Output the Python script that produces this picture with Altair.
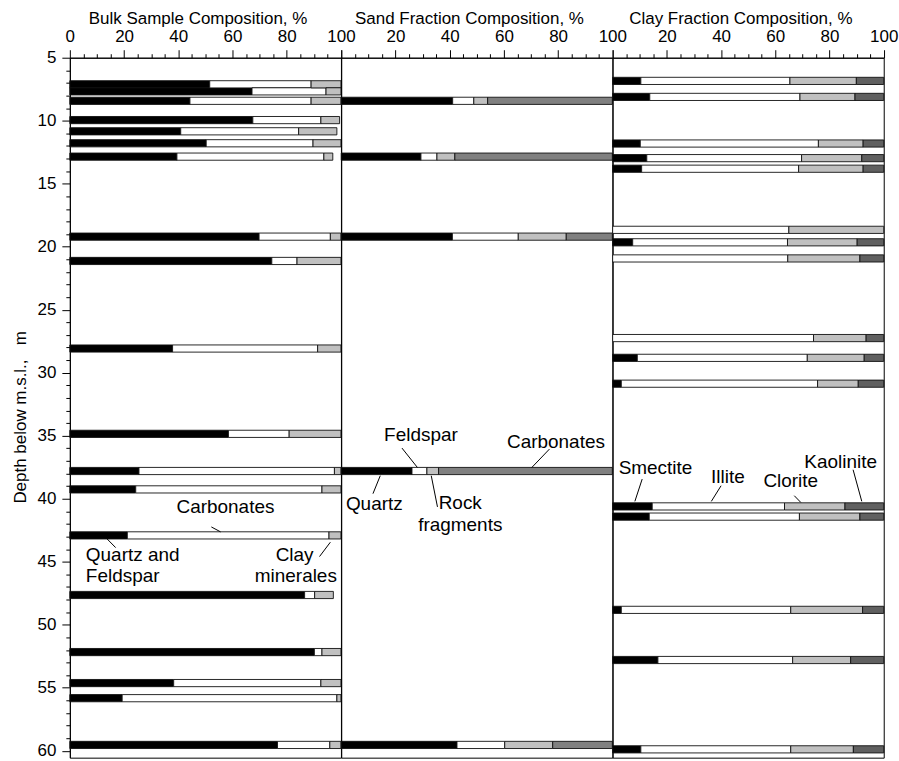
import altair as alt
import pandas as pd

FONT = "Liberation Sans"

# ---- Bulk sample composition, % ----
bulk_depth = [7.11, 7.67, 8.42, 9.95, 10.84, 11.79, 12.85, 19.2, 21.13, 28.08,
              34.85, 37.8, 39.26, 42.91, 47.64, 52.17, 54.63, 55.83, 59.54]
bulk_quartz_feldspar = [51.6, 67.2, 44.3, 67.5, 40.9, 50.3, 39.5, 69.8, 74.5, 37.9,
                        58.5, 25.5, 24.3, 21.2, 86.6, 90.2, 38.3, 19.3, 76.6]
bulk_carbonates = [37.4, 27.3, 44.7, 25.1, 43.5, 39.4, 54.2, 26.3, 9.3, 53.5,
                   22.4, 72.1, 68.7, 74.4, 3.7, 2.8, 54.3, 79.2, 19.3]
bulk_clay = [11.0, 5.5, 11.0, 6.9, 14.1, 10.3, 3.3, 3.9, 16.2, 8.6,
             19.1, 2.4, 7.0, 4.4, 6.9, 7.0, 7.4, 1.5, 4.1]

# ---- Sand fraction composition, % ----
sand_depth = [8.42, 12.85, 19.2, 37.8, 59.54]
sand_quartz = [41.1, 29.4, 41.0, 26.1, 42.7]
sand_feldspar = [7.8, 5.9, 24.3, 5.5, 17.6]
sand_rock = [5.1, 6.6, 17.7, 4.3, 17.7]
sand_carbonates = [46.0, 58.1, 17.0, 64.1, 22.0]

# ---- Clay fraction composition, % ----
clay_depth = [6.84, 8.11, 11.81, 12.97, 13.81, 18.66, 19.65, 20.93, 27.25, 28.82,
              30.87, 40.61, 41.42, 48.82, 52.8, 59.89]
clay_smectite = [10.4, 13.7, 10.2, 12.6, 10.7, 0, 7.4, 0, 0, 9.1,
                 3.2, 14.6, 13.5, 3.2, 16.7, 10.4]
clay_illite = [55.0, 55.4, 65.7, 57.1, 57.9, 65.0, 57.1, 64.6, 74.1, 62.7,
               72.4, 48.8, 55.4, 62.5, 49.7, 55.3]
clay_clorite = [24.5, 20.3, 16.5, 22.2, 23.8, 35.0, 25.7, 26.6, 19.4, 21.0,
                15.0, 22.3, 22.3, 26.5, 21.4, 23.1]
clay_kaolinite = [10.1, 10.6, 7.6, 8.1, 7.6, 0, 9.8, 8.8, 6.5, 7.2,
                  9.4, 14.3, 8.8, 7.8, 12.2, 11.2]

# ---- annotation labels: (text, x %, depth m) and leader lines ----
bulk_labels_center = [("Carbonates", 57.4, 40.63)]
bulk_labels_left = [("Quartz and", 5.9, 44.43), ("Feldspar", 5.9, 46.15)]
bulk_labels_right = [("Clay", 89.9, 44.43), ("minerales", 98.5, 46.15)]
bulk_leaders = [(52.2, 42.24, 55.6, 42.63), (13.6, 43.16, 16.9, 43.88),
                (92.1, 44.59, 96.1, 43.45)]

sand_labels_center = [("Feldspar", 29.4, 34.93), ("Carbonates", 79.2, 35.46),
                      ("Quartz", 12.2, 40.39), ("Rock", 43.9, 40.31),
                      ("fragments", 43.9, 42.05)]
sand_leaders = [(22.4, 35.98, 28.1, 37.52), (76.8, 36.06, 70.3, 37.52),
                (14.4, 38.17, 11.7, 39.6), (33.2, 38.17, 35.5, 40.65)]

clay_labels_center = [("Smectite", 15.8, 37.57), ("Illite", 42.5, 38.28),
                      ("Clorite", 65.7, 38.57), ("Kaolinite", 84.1, 37.12)]
clay_leaders = [(10.9, 38.44, 8.2, 40.21), (40.0, 38.97, 36.4, 40.21),
                (67.0, 39.76, 69.4, 40.29), (88.7, 37.7, 91.9, 40.21)]

PANEL_W = 271.7
PANEL_H = 701.5
BAR_HALF = 0.285

y_scale = alt.Scale(domain=[5, 60.55], reverse=True, nice=False, zero=False)
x_scale = alt.Scale(domain=[0, 100], nice=False)


def long_table(depths, parts):
    rows = []
    for order, (name, values) in enumerate(parts):
        for d, v in zip(depths, values):
            rows.append({"depth": d, "component": name, "order": order, "value": v})
    return pd.DataFrame(rows)


def x_axis(title, first):
    # panels to the right share their "0" with the "100" of the panel before
    label_test = "datum.value % 20 === 0" + ("" if first else " && datum.value > 0")
    return alt.Axis(
        orient="top",
        values=list(range(0, 101, 5)),
        labelExpr=f"{label_test} ? datum.label : ''",
        tickSize={"condition": {"test": "datum.value % 20 === 0", "value": 8}, "value": 4},
        labelPadding=4,
        labelFlush=False,
        labelOverlap=False,
        labelFontSize=17,
        title=title,
        titleFontSize=17,
        titleX=128,
        titleY=-34,
        titleBaseline="alphabetic",
        grid=False,
    )


Y_AXIS = alt.Axis(
    values=list(range(5, 61)),
    labelExpr="datum.value % 5 === 0 ? datum.label : ''",
    tickSize={"condition": {"test": "datum.value % 5 === 0", "value": 8}, "value": 4},
    labelPadding=6,
    labelOverlap=False,
    labelFontSize=17,
    title="Depth below m.s.l.,\u00a0\u00a0 m",
    titleFontSize=17,
    titleX=-44,
    titleY=360,
    titleBaseline="alphabetic",
    grid=False,
)


def text_layer(items, align, xa, ya):
    df = pd.DataFrame(items, columns=["label", "x", "depth"])
    return alt.Chart(df).mark_text(
        align=align, baseline="middle", fontSize=19, font=FONT, color="black"
    ).encode(
        x=alt.X("x:Q", scale=x_scale, axis=xa),
        y=alt.Y("depth:Q", scale=y_scale, axis=ya),
        text="label:N",
    )


def leader_layer(items, xa, ya):
    df = pd.DataFrame(items, columns=["x1", "d1", "x2", "d2"])
    return alt.Chart(df).mark_rule(color="black", strokeWidth=1).encode(
        x=alt.X("x1:Q", scale=x_scale, axis=xa),
        x2="x2:Q",
        y=alt.Y("d1:Q", scale=y_scale, axis=ya),
        y2="d2:Q",
    )


def panel(df, names, colors, title, first, texts, leaders):
    xa = x_axis(title, first)
    ya = Y_AXIS if first else None
    bars = (
        alt.Chart(df)
        .transform_filter("datum.value > 0")
        .transform_stack(
            stack="value",
            groupby=["depth"],
            as_=["x0", "x1"],
            sort=[alt.SortField("order", order="ascending")],
        )
        .transform_calculate(top=f"datum.depth - {BAR_HALF}", bottom=f"datum.depth + {BAR_HALF}")
        .mark_rect(stroke="#111111", strokeWidth=0.9)
        .encode(
            x=alt.X("x0:Q", scale=x_scale, axis=xa),
            x2="x1:Q",
            y=alt.Y("top:Q", scale=y_scale, axis=ya),
            y2="bottom:Q",
            color=alt.Color("component:N", scale=alt.Scale(domain=names, range=colors), legend=None),
        )
    )
    layers = [bars, leader_layer(leaders, xa, ya)]
    layers += [text_layer(items, align, xa, ya) for items, align in texts]
    return alt.layer(*layers).properties(width=PANEL_W, height=PANEL_H)


bulk_df = long_table(bulk_depth, [("Quartz and Feldspar", bulk_quartz_feldspar),
                                  ("Carbonates", bulk_carbonates),
                                  ("Clay minerales", bulk_clay)])
sand_df = long_table(sand_depth, [("Quartz", sand_quartz), ("Feldspar", sand_feldspar),
                                  ("Rock fragments", sand_rock), ("Carbonates", sand_carbonates)])
clay_df = long_table(clay_depth, [("Smectite", clay_smectite), ("Illite", clay_illite),
                                  ("Clorite", clay_clorite), ("Kaolinite", clay_kaolinite)])

p_bulk = panel(bulk_df, ["Quartz and Feldspar", "Carbonates", "Clay minerales"],
               ["#000000", "#ffffff", "#c0c0c0"], "Bulk Sample Composition, %", True,
               [(bulk_labels_center, "center"), (bulk_labels_left, "left"),
                (bulk_labels_right, "right")], bulk_leaders)
p_sand = panel(sand_df, ["Quartz", "Feldspar", "Rock fragments", "Carbonates"],
               ["#000000", "#ffffff", "#c0c0c0", "#808080"], "Sand Fraction Composition, %", False,
               [(sand_labels_center, "center")], sand_leaders)
p_clay = panel(clay_df, ["Smectite", "Illite", "Clorite", "Kaolinite"],
               ["#000000", "#ffffff", "#c0c0c0", "#606060"], "Clay Fraction Composition, %", False,
               [(clay_labels_center, "center")], clay_leaders)

chart = (
    alt.hconcat(p_bulk, p_sand, p_clay, spacing=0, bounds="flush")
    .resolve_scale(color="independent")
    .configure_view(stroke="black", strokeWidth=1)
    .configure_axis(
        labelFont=FONT, titleFont=FONT, labelColor="black", titleColor="black",
        titleFontWeight="normal", domainColor="black", tickColor="black",
        domainWidth=1, tickWidth=1,
    )
    .properties(padding={"left": 11, "top": 8, "right": 0, "bottom": 0}, background="white")
)

chart.save("out.html", embed_options={"renderer": "svg", "actions": False})
